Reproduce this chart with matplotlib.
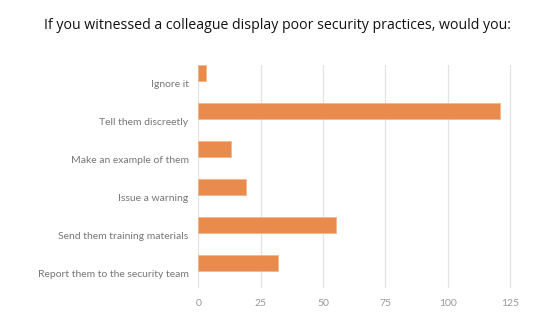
import matplotlib
matplotlib.use('Agg')
import matplotlib.pyplot as plt

# Survey answers (top to bottom as drawn)
answers = ['Ignore it', 'Tell them discreetly', 'Make an example of them',
           'Issue a warning', 'Send them training materials',
           'Report them to the security team']
counts = [3, 121, 13, 19, 55, 32]
x_ticks = [0, 25, 50, 75, 100, 125]

plt.rcParams['font.family'] = ['Lato', 'DejaVu Sans']

fig = plt.figure(figsize=(5.58, 3.34), dpi=100)
ax = fig.add_axes([0.3554, 0.1377, 0.5946, 0.6677])

pos = list(range(len(answers)))
ax.barh(pos, counts, height=0.42, color='#E88B4C', edgecolor='#F3B58C', linewidth=0.6, zorder=3)

# labels sit a bit below their bars, as in the original
ax.set_yticks([p + 0.27 for p in pos])
ax.set_yticklabels(answers, fontsize=7.5, color='#777777')
ax.set_ylim(5.65, -0.21)

ax.set_xlim(0, 133)
ax.set_xticks(x_ticks)
ax.set_xticklabels([str(t) for t in x_ticks], fontsize=7.5, color='#999999')
ax.xaxis.grid(True, color='#E3E3E3', linewidth=0.9, zorder=0)
ax.tick_params(axis='both', length=0)
ax.tick_params(axis='x', pad=8)
ax.tick_params(axis='y', pad=7)
for s in ax.spines.values():
    s.set_visible(False)

fig.text(0.497, 0.925, 'If you witnessed a colleague display poor security practices, would you:',
         ha='center', va='center', fontsize=10.2, color='#111111',
         family=['Open Sans', 'DejaVu Sans'], fontweight='medium')

fig.savefig('out.png', dpi=100, facecolor='white')
